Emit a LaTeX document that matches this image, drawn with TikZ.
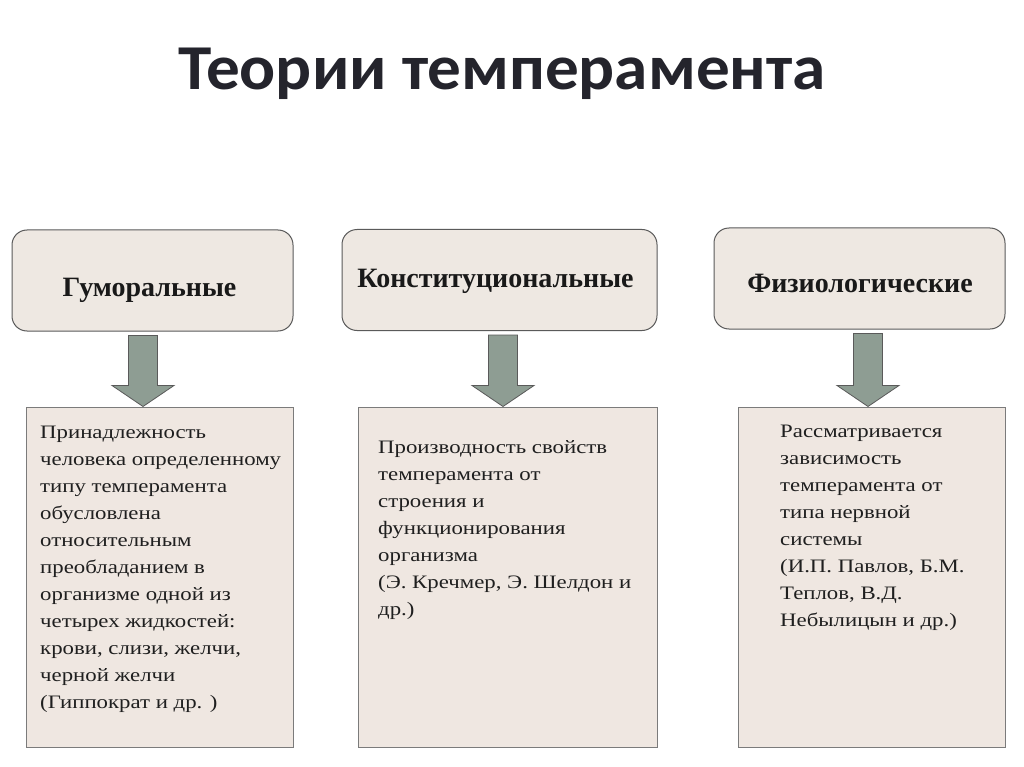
\documentclass[tikz,border=0pt]{standalone}
\usepackage{fontspec}
\setmainfont{Liberation Serif}
\newfontfamily\bodyfont{Liberation Serif}[FakeStretch=1.2]
\newfontfamily\titlefont{Carlito}[FakeStretch=1.05]
\usetikzlibrary{calc}

\definecolor{boxfill}{HTML}{EEE8E2}
\definecolor{textfill}{HTML}{EFE7E1}
\definecolor{arrowfill}{HTML}{8E9D93}
\definecolor{edgegray}{HTML}{5A5A5A}
\definecolor{titlegray}{HTML}{24242C}

\tikzset{
	topbox/.style={draw=edgegray, fill=boxfill, rounded corners=15pt, line width=1pt,
		minimum width=281pt, minimum height=101pt, inner sep=0pt},
	toplabel/.style={anchor=base, inner sep=0pt, text=black!90,
		font=\bfseries\fontsize{28}{32}\selectfont},
	textbox/.style={draw=edgegray!80, fill=textfill, line width=1pt,
		minimum width=267pt, minimum height=340pt, inner sep=0pt},
	bodytext/.style={anchor=north west, align=left, inner sep=0pt, text=black!88,
		font=\bodyfont\fontsize{19}{27}\selectfont},
	fatarrow/.style={draw=edgegray, fill=arrowfill, line width=0.8pt,
		to path={let \p1=(\tikztostart), \p2=(\tikztotarget) in
			(\x1-14.5pt,\y1-4pt) -- (\x1+14.5pt,\y1-4pt) -- (\x1+14.5pt,\y2+21pt)
			-- (\x1+31pt,\y2+21pt) -- (\x2,\y2) -- (\x1-31pt,\y2+21pt)
			-- (\x1-14.5pt,\y2+21pt) -- cycle}}
}

\begin{document}
\begin{tikzpicture}[x=1pt, y=-1pt]
	\useasboundingbox[fill=white] (0,0) rectangle (1024,767);
	% title
	\node[anchor=base, inner sep=0pt, text=titlegray, font=\titlefont\bfseries\fontsize{64}{70}\selectfont] (title) at (502,90) {Теории темперамента};

	% theories
	\node[topbox] (hum) at (152.5,280.5) {};
	\node[topbox, minimum width=315pt] (con) at (499.5,280) {};
	\node[topbox, minimum width=291pt] (phy) at (859.5,278.5) {};
	\node[toplabel] (humlabel) at (149.5,296) {Гуморальные};
	\node[toplabel] (conlabel) at (495.5,287) {Конституциональные};
	\node[toplabel] (phylabel) at (860,292) {Физиологические};

	% descriptions
	\node[textbox] (humbox) at (159.5,577) {};
	\node[textbox, minimum width=299pt] (conbox) at (507.5,577) {};
	\node[textbox] (phybox) at (871.5,577) {};

	\node[bodytext] (humtext) at (40,426) {Принадлежность\\человека определенному\\типу темперамента\\обусловлена\\относительным\\преобладанием в\\организме одной из\\четырех жидкостей:\\крови, слизи, желчи,\\черной желчи\\(Гиппократ и др. )};
	\node[bodytext] (context) at (378,440) {Производность свойств\\темперамента от\\строения и\\функционирования\\организма\\(Э. Кречмер, Э. Шелдон и\\др.)};
	\node[bodytext] (phytext) at (780,425) {Рассматривается\\зависимость\\темперамента от\\типа нервной\\системы\\(И.П. Павлов, Б.М.\\Теплов, В.Д.\\Небылицын и др.)};

	% arrows
	\coordinate (ax1) at (143,0);
	\coordinate (ax2) at (503,0);
	\coordinate (ax3) at (868,0);
	\draw[fatarrow] (hum.south -| ax1) to (humbox.north -| ax1);
	\draw[fatarrow] (con.south -| ax2) to (conbox.north -| ax2);
	\draw[fatarrow] (phy.south -| ax3) to (phybox.north -| ax3);
\end{tikzpicture}
\end{document}
